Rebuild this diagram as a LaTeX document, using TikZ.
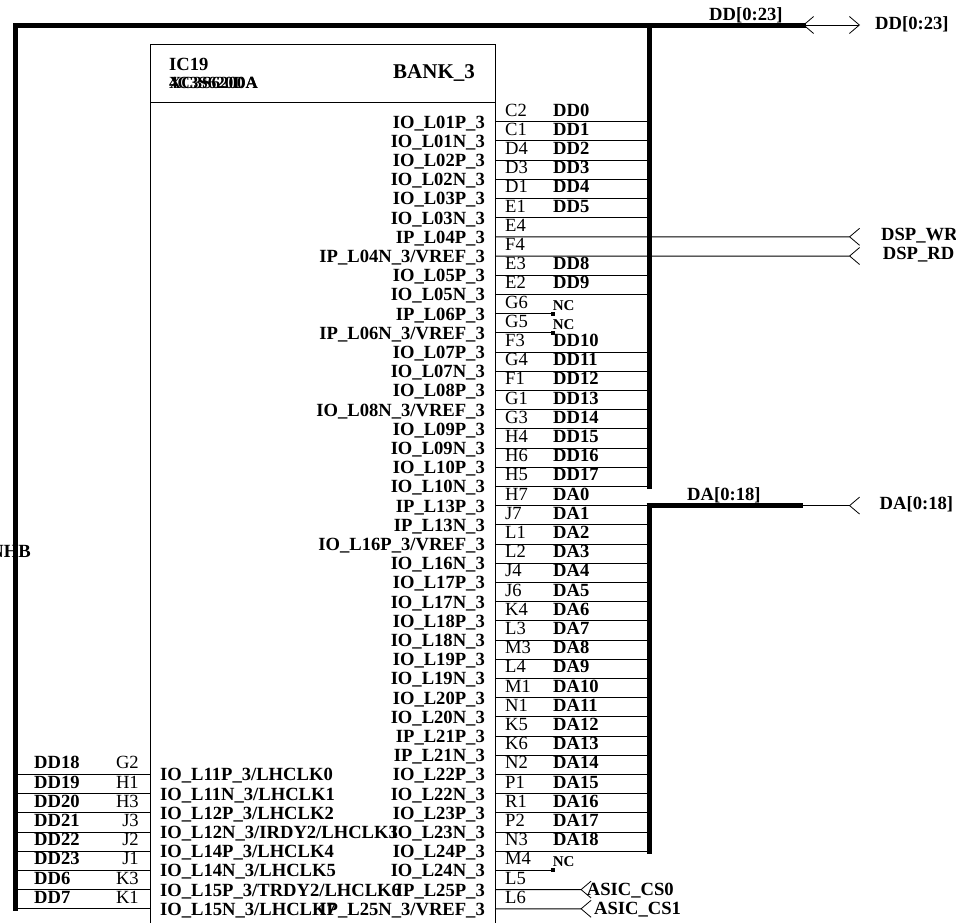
\documentclass[tikz,border=0pt]{standalone}
\usepackage{fontspec}
\setmainfont{Liberation Serif}
\usetikzlibrary{arrows.meta, positioning}

\tikzset{
    pinwire/.style={line width=1pt},
    buswire/.style={line width=5pt},
    chev/.tip={Straight Barb[length=10pt, width=17pt, line width=0.8pt]},
    chevback/.tip={Straight Barb[reversed, length=10pt, width=17pt, line width=0.8pt]},
    txtbold/.style={inner sep=0pt, anchor=base west, font=\fontsize{18.6}{18.6}\selectfont\bfseries},
    txtbig/.style={inner sep=0pt, anchor=base west, font=\fontsize{21}{21}\selectfont\bfseries},
    txtpin/.style={inner sep=0pt, anchor=base west, font=\fontsize{18.6}{18.6}\selectfont},
    txtnc/.style={inner sep=0pt, anchor=base west, font=\fontsize{15}{15}\selectfont\bfseries},
    txtpart/.style={inner sep=0pt, anchor=base west, font=\fontsize{17}{17}\selectfont\bfseries},
    ncdot/.style={fill=black, inner sep=0pt, minimum size=4pt},
}

\begin{document}
\begin{tikzpicture}[x=1pt,y=-1pt]
    \useasboundingbox (0,0) rectangle (956,922);
    \clip (0,0) rectangle (956,922);
    % symbol body
    \draw[pinwire] (150,44.5) rectangle (495,930);
    \draw[pinwire] (150,102) -- (495,102);
    \node[txtbold] (refdes) at (169,70) {IC19};
    \node[txtpart] (parta) at (169,88.3) {XC3S6200A};
    \node[txtpart] (partb) at (169,88.3) {4C3S620DA};
    \node[txtbig] (bank) at (393,78.3) {BANK\_3};

    % right hand pins
    \foreach \sig/\pad/\net [count=\i from 0] in {
        IO\_L01P\_3/C2/DD0, IO\_L01N\_3/C1/DD1, IO\_L02P\_3/D4/DD2, IO\_L02N\_3/D3/DD3,
        IO\_L03P\_3/D1/DD4, IO\_L03N\_3/E1/DD5, IP\_L04P\_3/E4/, IP\_L04N\_3{/}VREF\_3/F4/,
        IO\_L05P\_3/E3/DD8, IO\_L05N\_3/E2/DD9, IP\_L06P\_3/G6/, IP\_L06N\_3{/}VREF\_3/G5/,
        IO\_L07P\_3/F3/DD10, IO\_L07N\_3/G4/DD11, IO\_L08P\_3/F1/DD12, IO\_L08N\_3{/}VREF\_3/G1/DD13,
        IO\_L09P\_3/G3/DD14, IO\_L09N\_3/H4/DD15, IO\_L10P\_3/H6/DD16, IO\_L10N\_3/H5/DD17,
        IP\_L13P\_3/H7/DA0, IP\_L13N\_3/J7/DA1, IO\_L16P\_3{/}VREF\_3/L1/DA2, IO\_L16N\_3/L2/DA3,
        IO\_L17P\_3/J4/DA4, IO\_L17N\_3/J6/DA5, IO\_L18P\_3/K4/DA6, IO\_L18N\_3/L3/DA7,
        IO\_L19P\_3/M3/DA8, IO\_L19N\_3/L4/DA9, IO\_L20P\_3/M1/DA10, IO\_L20N\_3/N1/DA11,
        IP\_L21P\_3/K5/DA12, IP\_L21N\_3/K6/DA13, IO\_L22P\_3/N2/DA14, IO\_L22N\_3/P1/DA15,
        IO\_L23P\_3/R1/DA16, IO\_L23N\_3/P2/DA17, IO\_L24P\_3/N3/DA18, IO\_L24N\_3/M4/,
        IP\_L25P\_3/L5/, IP\_L25N\_3{/}VREF\_3/L6/}
    {
        \pgfmathsetmacro{\py}{121.6+19.2*\i}
        \coordinate (rpin\i) at (495,\py);
        \coordinate (rbus\i) at (649,\py);
        \node[txtbold, anchor=base east] (rsig\i) at (485,\py+6.5) {\sig};
        \node[txtpin] (rpad\i) at (505,\py-5.5) {\pad};
        \node[txtbold] (rnet\i) at (553,\py-5.5) {\net};
    }

    % wires into the buses
    \foreach \i in {0,...,5,8,9,12,13,...,38}
        \draw[pinwire] (rpin\i) -- (rbus\i);
    % open pins
    \foreach \i in {10,11,39}
    {
        \node[ncdot, right=55.5pt of rpin\i] (rdot\i) {};
        \draw[pinwire] (rpin\i) -- (rdot\i);
        \node[txtnc] (nc\i) at (rdot\i.center) [yshift=3.6pt] {NC};
    }

    % left hand pins
    \foreach \sig/\pad/\net [count=\i from 34] in {
        IO\_L11P\_3{/}LHCLK0/G2/DD18, IO\_L11N\_3{/}LHCLK1/H1/DD19,
        IO\_L12P\_3{/}LHCLK2/H3/DD20, IO\_L12N\_3{/}IRDY2{/}LHCLK3/J3/DD21,
        IO\_L14P\_3{/}LHCLK4/J2/DD22, IO\_L14N\_3{/}LHCLK5/J1/DD23,
        IO\_L15P\_3{/}TRDY2{/}LHCLK6/K3/DD6, IO\_L15N\_3{/}LHCLK7/K1/DD7}
    {
        \pgfmathsetmacro{\py}{121.6+19.2*\i}
        \coordinate (lpin\i) at (150,\py);
        \coordinate (lbus\i) at (15.5,\py);
        \draw[pinwire] (lpin\i) -- (lbus\i);
        \node[txtbold] (lsig\i) at (160,\py+6.5) {\sig};
        \node[txtpin, anchor=base east] (lpad\i) at (139,\py-5.5) {\pad};
        \node[txtbold] (lnet\i) at (34,\py-5.5) {\net};
    }

    % buses
    \coordinate (ddcorner) at (15.5,25);
    \coordinate (ddtap) at (649,25);
    \coordinate (ddend) at (803,25);
    \coordinate (ddport) at (860,25);
    \coordinate (dacorner) at (649,505.6);
    \coordinate (daend) at (803,505.6);
    \draw[buswire, line cap=rect] (lbus41) -- (ddcorner) -- (ddend);
    \draw[buswire, line cap=rect] (ddtap) -- (rbus19);
    \draw[buswire, line cap=rect] (rbus38) -- (dacorner);
    \draw[buswire] (dacorner) ++(-2.5,0) -- (daend);

    % ports
    \draw[pinwire, {chev}-{chev}] (ddend) -- (ddport);
    \coordinate (daport) at (860,505.6);
    \draw[pinwire, -{chevback}] (daend) -- (daport);
    \coordinate (wrport) at (860,236.8);
    \coordinate (rdport) at (860,256);
    \draw[pinwire, -{chevback}] (rpin6) -- (wrport);
    \draw[pinwire, -{chevback}] (rpin7) -- (rdport);
    \coordinate (cs0port) at (591.5,889.6);
    \coordinate (cs1port) at (591.5,908.8);
    \draw[pinwire, -{chevback}] (rpin40) -- (cs0port);
    \draw[pinwire, -{chevback}] (rpin41) -- (cs1port);

    % net names
    \node[txtbold] (ddlabel) at (709,20) {DD[0:23]};
    \node[txtbold] (ddname) at (875,29.3) {DD[0:23]};
    \node[txtbold] (dalabel) at (687,500) {DA[0:18]};
    \node[txtbold] (daname) at (879.5,509) {DA[0:18]};
    \node[txtbold] (wrname) at (881,240) {DSP\_WR};
    \node[txtbold] (rdname) at (882.7,259.3) {DSP\_RD};
    \node[txtbold] (cs0name) at (586.7,895) {ASIC\_CS0};
    \node[txtbold] (cs1name) at (594,914) {ASIC\_CS1};
    \node[txtbold, anchor=base east] (inhb) at (31,557.3) {NHB};
\end{tikzpicture}
\end{document}
